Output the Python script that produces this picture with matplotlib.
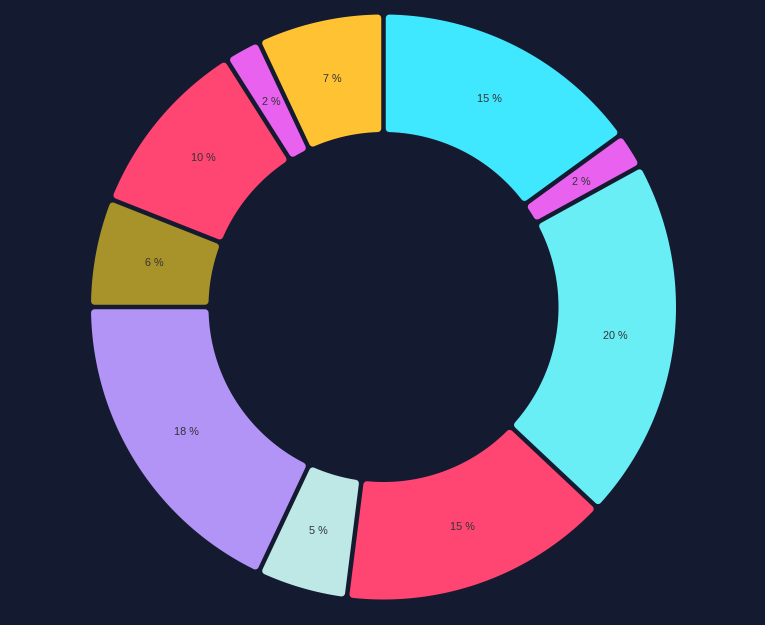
import numpy as np
import matplotlib
matplotlib.use("Agg")
import matplotlib.pyplot as plt
from matplotlib.patches import Polygon

values = [15, 2, 20, 15, 5, 18, 6, 10, 2, 7]
labels = ["15 %", "2 %", "20 %", "15 %", "5 %", "18 %", "6 %", "10 %", "2 %", "7 %"]
colors = ["#40e8ff", "#e962ef", "#6aeef5", "#ff4571", "#bde8e6",
          "#b294f7", "#a8922a", "#ff4571", "#e962ef", "#ffc233"]

BG = "#141a2f"
W, H = 765, 625
cx, cy = 383.5, 307
R_out, R_in = 292.5, 175
gap = 4.5
cr = 3.5

fig = plt.figure(figsize=(W / 100, H / 100), dpi=100, facecolor=BG)
ax = fig.add_axes([0, 0, 1, 1])
ax.set_facecolor(BG)
ax.set_xlim(0, W)
ax.set_ylim(H, 0)
ax.set_aspect("equal")
ax.axis("off")

total = sum(values)
start = 0.0  # degrees clockwise from 12 o'clock
h = gap / 2 + cr
ro = R_out - cr
ri = R_in + cr


def pt(r, ang):
    a = np.radians(ang)
    return cx + r * np.sin(a), cy - r * np.cos(a)


for v, lab, col in zip(values, labels, colors):
    span = 360.0 * v / total
    a0, a1 = start, start + span
    do = np.degrees(np.arcsin(h / ro))
    di = np.degrees(np.arcsin(h / ri))
    ts = np.linspace(a0 + do, a1 - do, 80)
    outer = [pt(ro, t) for t in ts]
    ti = np.linspace(a1 - di, a0 + di, 60)
    inner = [pt(ri, t) for t in ti]
    poly = Polygon(outer + inner, closed=True, facecolor=col, edgecolor=col,
                   linewidth=2 * cr * 0.72, joinstyle="round", antialiased=True)
    ax.add_patch(poly)
    mid = (a0 + a1) / 2
    lx, ly = pt((R_out + R_in) / 2, mid)
    ax.text(lx, ly, lab, ha="center", va="center", fontsize=7.8,
            color="#333333", family=["Liberation Sans", "DejaVu Sans"])
    start = a1

fig.savefig("out.png", dpi=100, facecolor=BG)
